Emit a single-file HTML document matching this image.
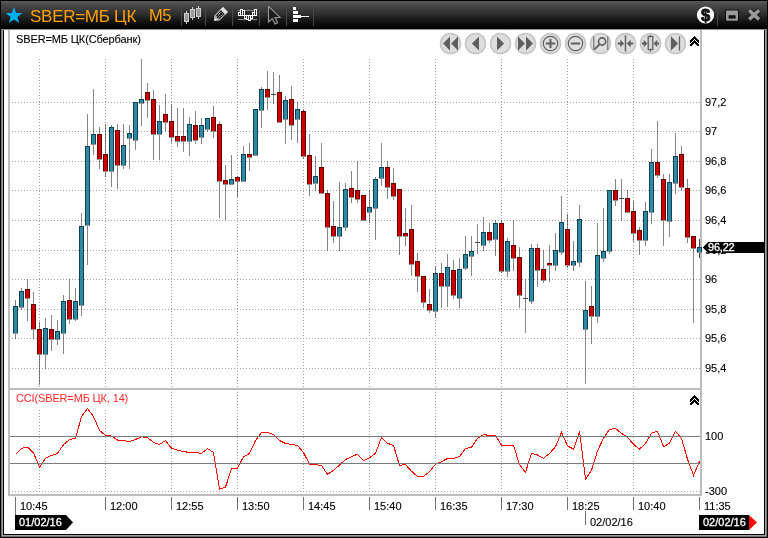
<!DOCTYPE html>
<html lang="ru"><head><meta charset="utf-8"><title>SBER=МБ ЦК M5</title>
<style>
html,body{margin:0;padding:0;background:#fff;}
body{width:768px;height:538px;overflow:hidden;position:relative;font-family:"Liberation Sans",sans-serif;}
#win{position:absolute;left:0;top:0;width:768px;height:538px;background:#fff;overflow:hidden;}
#titlebar{position:absolute;left:0;top:0;width:768px;height:29px;background:linear-gradient(#000 0,#000 1px,#585858 1px,#4c4c4c 4px,#2e2e2e 14px,#181818 20px,#0a0a0a 25px,#000 28px);}
#titlebar .ttl{position:absolute;color:#ffa000;font-size:17px;line-height:20px;white-space:pre;}
.lbl{position:absolute;font-size:11px;line-height:12px;color:#000;white-space:pre;-webkit-text-stroke:0.12px #000;}
.badge{position:absolute;font-size:11px;line-height:12px;color:#fff;white-space:pre;-webkit-text-stroke:0.3px #fff;}
svg{position:absolute;left:0;top:0;}
</style></head><body>
<div id="win">
<svg id="chart" width="768" height="538" viewBox="0 0 768 538" shape-rendering="crispEdges">
<rect x="0" y="29" width="768" height="509" fill="#fff"/>
<rect x="0" y="29" width="768" height="1" fill="#909090"/>
<rect x="0" y="29" width="1" height="509" fill="#000"/>
<rect x="1" y="29" width="1" height="509" fill="#747474"/><rect x="2" y="29" width="1" height="509" fill="#a2a2a2"/>
<rect x="3" y="30" width="1" height="505" fill="#000"/>
<rect x="767" y="29" width="1" height="509" fill="#000"/>
<rect x="765" y="29" width="1" height="509" fill="#a2a2a2"/><rect x="766" y="29" width="1" height="509" fill="#747474"/>
<rect x="764" y="30" width="1" height="505" fill="#000"/>
<rect x="3" y="534" width="762" height="1" fill="#000"/>
<rect x="2" y="535" width="764" height="1" fill="#a2a2a2"/><rect x="1" y="536" width="766" height="1" fill="#747474"/>
<rect x="0" y="537" width="768" height="1" fill="#000"/>
<line x1="9" y1="102.5" x2="700" y2="102.5" stroke="#a4a4a4" stroke-width="1" stroke-dasharray="1 2"/>
<line x1="9" y1="131.5" x2="700" y2="131.5" stroke="#a4a4a4" stroke-width="1" stroke-dasharray="1 2"/>
<line x1="9" y1="161.5" x2="700" y2="161.5" stroke="#a4a4a4" stroke-width="1" stroke-dasharray="1 2"/>
<line x1="9" y1="190.5" x2="700" y2="190.5" stroke="#a4a4a4" stroke-width="1" stroke-dasharray="1 2"/>
<line x1="9" y1="220.5" x2="700" y2="220.5" stroke="#a4a4a4" stroke-width="1" stroke-dasharray="1 2"/>
<line x1="9" y1="250.5" x2="700" y2="250.5" stroke="#a4a4a4" stroke-width="1" stroke-dasharray="1 2"/>
<line x1="9" y1="279.5" x2="700" y2="279.5" stroke="#a4a4a4" stroke-width="1" stroke-dasharray="1 2"/>
<line x1="9" y1="309.5" x2="700" y2="309.5" stroke="#a4a4a4" stroke-width="1" stroke-dasharray="1 2"/>
<line x1="9" y1="338.5" x2="700" y2="338.5" stroke="#a4a4a4" stroke-width="1" stroke-dasharray="1 2"/>
<line x1="9" y1="368.5" x2="700" y2="368.5" stroke="#a4a4a4" stroke-width="1" stroke-dasharray="1 2"/>
<line x1="39.5" y1="59" x2="39.5" y2="388" stroke="#a4a4a4" stroke-width="1" stroke-dasharray="1 2"/>
<line x1="39.5" y1="410" x2="39.5" y2="494" stroke="#a4a4a4" stroke-width="1" stroke-dasharray="1 2"/>
<line x1="105.5" y1="59" x2="105.5" y2="388" stroke="#a4a4a4" stroke-width="1" stroke-dasharray="1 2"/>
<line x1="105.5" y1="410" x2="105.5" y2="494" stroke="#a4a4a4" stroke-width="1" stroke-dasharray="1 2"/>
<line x1="171.5" y1="59" x2="171.5" y2="388" stroke="#a4a4a4" stroke-width="1" stroke-dasharray="1 2"/>
<line x1="171.5" y1="392" x2="171.5" y2="494" stroke="#a4a4a4" stroke-width="1" stroke-dasharray="1 2"/>
<line x1="237.5" y1="59" x2="237.5" y2="388" stroke="#a4a4a4" stroke-width="1" stroke-dasharray="1 2"/>
<line x1="237.5" y1="392" x2="237.5" y2="494" stroke="#a4a4a4" stroke-width="1" stroke-dasharray="1 2"/>
<line x1="303.5" y1="59" x2="303.5" y2="388" stroke="#a4a4a4" stroke-width="1" stroke-dasharray="1 2"/>
<line x1="303.5" y1="392" x2="303.5" y2="494" stroke="#a4a4a4" stroke-width="1" stroke-dasharray="1 2"/>
<line x1="369.5" y1="59" x2="369.5" y2="388" stroke="#a4a4a4" stroke-width="1" stroke-dasharray="1 2"/>
<line x1="369.5" y1="392" x2="369.5" y2="494" stroke="#a4a4a4" stroke-width="1" stroke-dasharray="1 2"/>
<line x1="435.5" y1="59" x2="435.5" y2="388" stroke="#a4a4a4" stroke-width="1" stroke-dasharray="1 2"/>
<line x1="435.5" y1="392" x2="435.5" y2="494" stroke="#a4a4a4" stroke-width="1" stroke-dasharray="1 2"/>
<line x1="501.5" y1="59" x2="501.5" y2="388" stroke="#a4a4a4" stroke-width="1" stroke-dasharray="1 2"/>
<line x1="501.5" y1="392" x2="501.5" y2="494" stroke="#a4a4a4" stroke-width="1" stroke-dasharray="1 2"/>
<line x1="567.5" y1="59" x2="567.5" y2="388" stroke="#a4a4a4" stroke-width="1" stroke-dasharray="1 2"/>
<line x1="567.5" y1="392" x2="567.5" y2="494" stroke="#a4a4a4" stroke-width="1" stroke-dasharray="1 2"/>
<line x1="633.5" y1="59" x2="633.5" y2="388" stroke="#a4a4a4" stroke-width="1" stroke-dasharray="1 2"/>
<line x1="633.5" y1="392" x2="633.5" y2="494" stroke="#a4a4a4" stroke-width="1" stroke-dasharray="1 2"/>
<line x1="9" y1="491.5" x2="700" y2="491.5" stroke="#a4a4a4" stroke-width="1" stroke-dasharray="1 2"/>
<g shape-rendering="geometricPrecision">
<rect x="15" y="300" width="1" height="39" fill="#000" fill-opacity="0.48"/>
<rect x="13" y="333" width="5" height="1" fill="#fff"/>
<rect x="13" y="333" width="5" height="1" fill="#939393"/>
<rect x="13" y="306" width="5" height="27" fill="#0f4053"/>
<rect x="14" y="307" width="3" height="26" fill="#3089a3"/>
<rect x="21" y="288" width="1" height="22" fill="#000" fill-opacity="0.48"/>
<rect x="19" y="307" width="5" height="1" fill="#fff"/>
<rect x="19" y="307" width="5" height="1" fill="#939393"/>
<rect x="19" y="291" width="5" height="16" fill="#0f4053"/>
<rect x="20" y="292" width="3" height="15" fill="#3089a3"/>
<rect x="27" y="279" width="1" height="42" fill="#000" fill-opacity="0.48"/>
<rect x="25" y="298" width="5" height="1" fill="#fff"/>
<rect x="25" y="298" width="5" height="1" fill="#939393"/>
<rect x="25" y="289" width="5" height="9" fill="#640000"/>
<rect x="26" y="290" width="3" height="8" fill="#cc0000"/>
<rect x="33" y="292" width="1" height="47" fill="#000" fill-opacity="0.48"/>
<rect x="31" y="329" width="5" height="1" fill="#fff"/>
<rect x="31" y="329" width="5" height="1" fill="#939393"/>
<rect x="31" y="304" width="5" height="25" fill="#640000"/>
<rect x="32" y="305" width="3" height="24" fill="#cc0000"/>
<rect x="39" y="322" width="1" height="63" fill="#000" fill-opacity="0.48"/>
<rect x="37" y="354" width="5" height="1" fill="#fff"/>
<rect x="37" y="354" width="5" height="1" fill="#939393"/>
<rect x="37" y="329" width="5" height="25" fill="#640000"/>
<rect x="38" y="330" width="3" height="24" fill="#cc0000"/>
<rect x="45" y="318" width="1" height="51" fill="#000" fill-opacity="0.48"/>
<rect x="43" y="354" width="5" height="1" fill="#fff"/>
<rect x="43" y="354" width="5" height="1" fill="#939393"/>
<rect x="43" y="328" width="5" height="26" fill="#0f4053"/>
<rect x="44" y="329" width="3" height="25" fill="#3089a3"/>
<rect x="51" y="315" width="1" height="36" fill="#000" fill-opacity="0.48"/>
<rect x="49" y="339" width="5" height="1" fill="#fff"/>
<rect x="49" y="339" width="5" height="1" fill="#939393"/>
<rect x="49" y="329" width="5" height="10" fill="#640000"/>
<rect x="50" y="330" width="3" height="9" fill="#cc0000"/>
<rect x="57" y="320" width="1" height="25" fill="#000" fill-opacity="0.48"/>
<rect x="55" y="339" width="5" height="1" fill="#fff"/>
<rect x="55" y="339" width="5" height="1" fill="#939393"/>
<rect x="55" y="331" width="5" height="8" fill="#0f4053"/>
<rect x="56" y="332" width="3" height="7" fill="#3089a3"/>
<rect x="63" y="295" width="1" height="59" fill="#000" fill-opacity="0.48"/>
<rect x="61" y="333" width="5" height="1" fill="#fff"/>
<rect x="61" y="333" width="5" height="1" fill="#939393"/>
<rect x="61" y="301" width="5" height="32" fill="#0f4053"/>
<rect x="62" y="302" width="3" height="31" fill="#3089a3"/>
<rect x="69" y="279" width="1" height="45" fill="#000" fill-opacity="0.48"/>
<rect x="67" y="319" width="5" height="1" fill="#fff"/>
<rect x="67" y="319" width="5" height="1" fill="#939393"/>
<rect x="67" y="300" width="5" height="19" fill="#640000"/>
<rect x="68" y="301" width="3" height="18" fill="#cc0000"/>
<rect x="75" y="288" width="1" height="33" fill="#000" fill-opacity="0.48"/>
<rect x="73" y="319" width="5" height="1" fill="#fff"/>
<rect x="73" y="319" width="5" height="1" fill="#939393"/>
<rect x="73" y="301" width="5" height="18" fill="#0f4053"/>
<rect x="74" y="302" width="3" height="17" fill="#3089a3"/>
<rect x="81" y="213" width="1" height="103" fill="#000" fill-opacity="0.48"/>
<rect x="79" y="305" width="5" height="1" fill="#fff"/>
<rect x="79" y="305" width="5" height="1" fill="#939393"/>
<rect x="79" y="226" width="5" height="79" fill="#0f4053"/>
<rect x="80" y="227" width="3" height="78" fill="#3089a3"/>
<rect x="87" y="114" width="1" height="151" fill="#000" fill-opacity="0.48"/>
<rect x="85" y="225" width="5" height="1" fill="#fff"/>
<rect x="85" y="225" width="5" height="1" fill="#939393"/>
<rect x="85" y="146" width="5" height="79" fill="#0f4053"/>
<rect x="86" y="147" width="3" height="78" fill="#3089a3"/>
<rect x="93" y="89" width="1" height="66" fill="#000" fill-opacity="0.48"/>
<rect x="91" y="144" width="5" height="1" fill="#fff"/>
<rect x="91" y="144" width="5" height="1" fill="#939393"/>
<rect x="91" y="134" width="5" height="10" fill="#0f4053"/>
<rect x="92" y="135" width="3" height="9" fill="#3089a3"/>
<rect x="99" y="127" width="1" height="42" fill="#000" fill-opacity="0.48"/>
<rect x="97" y="159" width="5" height="1" fill="#fff"/>
<rect x="97" y="159" width="5" height="1" fill="#939393"/>
<rect x="97" y="134" width="5" height="25" fill="#640000"/>
<rect x="98" y="135" width="3" height="24" fill="#cc0000"/>
<rect x="105" y="124" width="1" height="53" fill="#000" fill-opacity="0.48"/>
<rect x="103" y="171" width="5" height="1" fill="#fff"/>
<rect x="103" y="171" width="5" height="1" fill="#939393"/>
<rect x="103" y="154" width="5" height="17" fill="#640000"/>
<rect x="104" y="155" width="3" height="16" fill="#cc0000"/>
<rect x="111" y="125" width="1" height="62" fill="#000" fill-opacity="0.48"/>
<rect x="109" y="171" width="5" height="1" fill="#fff"/>
<rect x="109" y="171" width="5" height="1" fill="#939393"/>
<rect x="109" y="127" width="5" height="44" fill="#0f4053"/>
<rect x="110" y="128" width="3" height="43" fill="#3089a3"/>
<rect x="117" y="124" width="1" height="65" fill="#000" fill-opacity="0.48"/>
<rect x="115" y="165" width="5" height="1" fill="#fff"/>
<rect x="115" y="165" width="5" height="1" fill="#939393"/>
<rect x="115" y="130" width="5" height="35" fill="#640000"/>
<rect x="116" y="131" width="3" height="34" fill="#cc0000"/>
<rect x="123" y="124" width="1" height="45" fill="#000" fill-opacity="0.48"/>
<rect x="121" y="165" width="5" height="1" fill="#fff"/>
<rect x="121" y="165" width="5" height="1" fill="#939393"/>
<rect x="121" y="145" width="5" height="20" fill="#0f4053"/>
<rect x="122" y="146" width="3" height="19" fill="#3089a3"/>
<rect x="129" y="125" width="1" height="44" fill="#000" fill-opacity="0.48"/>
<rect x="127" y="138" width="5" height="1" fill="#fff"/>
<rect x="127" y="138" width="5" height="1" fill="#939393"/>
<rect x="127" y="133" width="5" height="5" fill="#0f4053"/>
<rect x="128" y="134" width="3" height="4" fill="#3089a3"/>
<rect x="135" y="102" width="1" height="48" fill="#000" fill-opacity="0.48"/>
<rect x="133" y="140" width="5" height="1" fill="#fff"/>
<rect x="133" y="140" width="5" height="1" fill="#939393"/>
<rect x="133" y="102" width="5" height="38" fill="#0f4053"/>
<rect x="134" y="103" width="3" height="37" fill="#3089a3"/>
<rect x="141" y="59" width="1" height="67" fill="#000" fill-opacity="0.48"/>
<rect x="139" y="103" width="5" height="1" fill="#fff"/>
<rect x="139" y="103" width="5" height="1" fill="#939393"/>
<rect x="139" y="99" width="5" height="4" fill="#0f4053"/>
<rect x="140" y="100" width="3" height="3" fill="#3089a3"/>
<rect x="147" y="83" width="1" height="35" fill="#000" fill-opacity="0.48"/>
<rect x="145" y="100" width="5" height="1" fill="#fff"/>
<rect x="145" y="100" width="5" height="1" fill="#939393"/>
<rect x="145" y="92" width="5" height="8" fill="#640000"/>
<rect x="146" y="93" width="3" height="7" fill="#cc0000"/>
<rect x="153" y="90" width="1" height="70" fill="#000" fill-opacity="0.48"/>
<rect x="151" y="134" width="5" height="1" fill="#fff"/>
<rect x="151" y="134" width="5" height="1" fill="#939393"/>
<rect x="151" y="99" width="5" height="35" fill="#640000"/>
<rect x="152" y="100" width="3" height="34" fill="#cc0000"/>
<rect x="159" y="105" width="1" height="55" fill="#000" fill-opacity="0.48"/>
<rect x="157" y="134" width="5" height="1" fill="#fff"/>
<rect x="157" y="134" width="5" height="1" fill="#939393"/>
<rect x="157" y="121" width="5" height="13" fill="#0f4053"/>
<rect x="158" y="122" width="3" height="12" fill="#3089a3"/>
<rect x="165" y="94" width="1" height="37" fill="#000" fill-opacity="0.48"/>
<rect x="163" y="122" width="5" height="1" fill="#fff"/>
<rect x="163" y="122" width="5" height="1" fill="#939393"/>
<rect x="163" y="114" width="5" height="8" fill="#640000"/>
<rect x="164" y="115" width="3" height="7" fill="#cc0000"/>
<rect x="171" y="104" width="1" height="39" fill="#000" fill-opacity="0.48"/>
<rect x="169" y="137" width="5" height="1" fill="#fff"/>
<rect x="169" y="137" width="5" height="1" fill="#939393"/>
<rect x="169" y="121" width="5" height="16" fill="#640000"/>
<rect x="170" y="122" width="3" height="15" fill="#cc0000"/>
<rect x="177" y="108" width="1" height="39" fill="#000" fill-opacity="0.48"/>
<rect x="175" y="141" width="5" height="1" fill="#fff"/>
<rect x="175" y="141" width="5" height="1" fill="#939393"/>
<rect x="175" y="136" width="5" height="5" fill="#640000"/>
<rect x="176" y="137" width="3" height="4" fill="#cc0000"/>
<rect x="183" y="108" width="1" height="44" fill="#000" fill-opacity="0.48"/>
<rect x="181" y="141" width="5" height="1" fill="#fff"/>
<rect x="181" y="141" width="5" height="1" fill="#939393"/>
<rect x="181" y="136" width="5" height="5" fill="#640000"/>
<rect x="182" y="137" width="3" height="4" fill="#cc0000"/>
<rect x="189" y="117" width="1" height="39" fill="#000" fill-opacity="0.48"/>
<rect x="187" y="141" width="5" height="1" fill="#fff"/>
<rect x="187" y="141" width="5" height="1" fill="#939393"/>
<rect x="187" y="124" width="5" height="17" fill="#0f4053"/>
<rect x="188" y="125" width="3" height="16" fill="#3089a3"/>
<rect x="195" y="111" width="1" height="33" fill="#000" fill-opacity="0.48"/>
<rect x="193" y="140" width="5" height="1" fill="#fff"/>
<rect x="193" y="140" width="5" height="1" fill="#939393"/>
<rect x="193" y="125" width="5" height="15" fill="#640000"/>
<rect x="194" y="126" width="3" height="14" fill="#cc0000"/>
<rect x="201" y="118" width="1" height="26" fill="#000" fill-opacity="0.48"/>
<rect x="199" y="137" width="5" height="1" fill="#fff"/>
<rect x="199" y="137" width="5" height="1" fill="#939393"/>
<rect x="199" y="125" width="5" height="12" fill="#0f4053"/>
<rect x="200" y="126" width="3" height="11" fill="#3089a3"/>
<rect x="207" y="118" width="1" height="14" fill="#000" fill-opacity="0.48"/>
<rect x="205" y="129" width="5" height="1" fill="#fff"/>
<rect x="205" y="129" width="5" height="1" fill="#939393"/>
<rect x="205" y="118" width="5" height="11" fill="#0f4053"/>
<rect x="206" y="119" width="3" height="10" fill="#3089a3"/>
<rect x="213" y="106" width="1" height="32" fill="#000" fill-opacity="0.48"/>
<rect x="211" y="131" width="5" height="1" fill="#fff"/>
<rect x="211" y="131" width="5" height="1" fill="#939393"/>
<rect x="211" y="117" width="5" height="14" fill="#640000"/>
<rect x="212" y="118" width="3" height="13" fill="#cc0000"/>
<rect x="219" y="121" width="1" height="97" fill="#000" fill-opacity="0.48"/>
<rect x="217" y="181" width="5" height="1" fill="#fff"/>
<rect x="217" y="181" width="5" height="1" fill="#939393"/>
<rect x="217" y="124" width="5" height="57" fill="#640000"/>
<rect x="218" y="125" width="3" height="56" fill="#cc0000"/>
<rect x="225" y="165" width="1" height="55" fill="#000" fill-opacity="0.48"/>
<rect x="223" y="184" width="5" height="1" fill="#fff"/>
<rect x="223" y="184" width="5" height="1" fill="#939393"/>
<rect x="223" y="180" width="5" height="4" fill="#640000"/>
<rect x="224" y="181" width="3" height="3" fill="#cc0000"/>
<rect x="231" y="155" width="1" height="29" fill="#000" fill-opacity="0.48"/>
<rect x="229" y="184" width="5" height="1" fill="#fff"/>
<rect x="229" y="184" width="5" height="1" fill="#939393"/>
<rect x="229" y="179" width="5" height="5" fill="#0f4053"/>
<rect x="230" y="180" width="3" height="4" fill="#3089a3"/>
<rect x="237" y="176" width="1" height="21" fill="#000" fill-opacity="0.48"/>
<rect x="235" y="181" width="5" height="1" fill="#fff"/>
<rect x="235" y="181" width="5" height="1" fill="#939393"/>
<rect x="235" y="177" width="5" height="4" fill="#640000"/>
<rect x="236" y="178" width="3" height="3" fill="#cc0000"/>
<rect x="243" y="146" width="1" height="35" fill="#000" fill-opacity="0.48"/>
<rect x="241" y="181" width="5" height="1" fill="#fff"/>
<rect x="241" y="181" width="5" height="1" fill="#939393"/>
<rect x="241" y="154" width="5" height="27" fill="#0f4053"/>
<rect x="242" y="155" width="3" height="26" fill="#3089a3"/>
<rect x="249" y="143" width="1" height="28" fill="#000" fill-opacity="0.48"/>
<rect x="247" y="157" width="5" height="1" fill="#fff"/>
<rect x="247" y="157" width="5" height="1" fill="#939393"/>
<rect x="247" y="154" width="5" height="3" fill="#640000"/>
<rect x="248" y="155" width="3" height="2" fill="#cc0000"/>
<rect x="255" y="109" width="1" height="46" fill="#000" fill-opacity="0.48"/>
<rect x="253" y="155" width="5" height="1" fill="#fff"/>
<rect x="253" y="155" width="5" height="1" fill="#939393"/>
<rect x="253" y="109" width="5" height="46" fill="#0f4053"/>
<rect x="254" y="110" width="3" height="45" fill="#3089a3"/>
<rect x="261" y="87" width="1" height="41" fill="#000" fill-opacity="0.48"/>
<rect x="259" y="110" width="5" height="1" fill="#fff"/>
<rect x="259" y="110" width="5" height="1" fill="#939393"/>
<rect x="259" y="89" width="5" height="21" fill="#0f4053"/>
<rect x="260" y="90" width="3" height="20" fill="#3089a3"/>
<rect x="267" y="71" width="1" height="39" fill="#000" fill-opacity="0.48"/>
<rect x="265" y="97" width="5" height="1" fill="#fff"/>
<rect x="265" y="97" width="5" height="1" fill="#939393"/>
<rect x="265" y="89" width="5" height="8" fill="#640000"/>
<rect x="266" y="90" width="3" height="7" fill="#cc0000"/>
<rect x="273" y="72" width="1" height="32" fill="#000" fill-opacity="0.48"/>
<rect x="271" y="94" width="5" height="1" fill="#444"/>
<rect x="279" y="75" width="1" height="47" fill="#000" fill-opacity="0.48"/>
<rect x="277" y="122" width="5" height="1" fill="#fff"/>
<rect x="277" y="122" width="5" height="1" fill="#939393"/>
<rect x="277" y="92" width="5" height="30" fill="#640000"/>
<rect x="278" y="93" width="3" height="29" fill="#cc0000"/>
<rect x="285" y="96" width="1" height="48" fill="#000" fill-opacity="0.48"/>
<rect x="283" y="119" width="5" height="1" fill="#fff"/>
<rect x="283" y="119" width="5" height="1" fill="#939393"/>
<rect x="283" y="100" width="5" height="19" fill="#0f4053"/>
<rect x="284" y="101" width="3" height="18" fill="#3089a3"/>
<rect x="291" y="86" width="1" height="54" fill="#000" fill-opacity="0.48"/>
<rect x="289" y="125" width="5" height="1" fill="#fff"/>
<rect x="289" y="125" width="5" height="1" fill="#939393"/>
<rect x="289" y="99" width="5" height="26" fill="#640000"/>
<rect x="290" y="100" width="3" height="25" fill="#cc0000"/>
<rect x="297" y="102" width="1" height="41" fill="#000" fill-opacity="0.48"/>
<rect x="295" y="119" width="5" height="1" fill="#fff"/>
<rect x="295" y="119" width="5" height="1" fill="#939393"/>
<rect x="295" y="109" width="5" height="10" fill="#0f4053"/>
<rect x="296" y="110" width="3" height="9" fill="#3089a3"/>
<rect x="303" y="109" width="1" height="50" fill="#000" fill-opacity="0.48"/>
<rect x="301" y="156" width="5" height="1" fill="#fff"/>
<rect x="301" y="156" width="5" height="1" fill="#939393"/>
<rect x="301" y="111" width="5" height="45" fill="#640000"/>
<rect x="302" y="112" width="3" height="44" fill="#cc0000"/>
<rect x="309" y="134" width="1" height="62" fill="#000" fill-opacity="0.48"/>
<rect x="307" y="184" width="5" height="1" fill="#fff"/>
<rect x="307" y="184" width="5" height="1" fill="#939393"/>
<rect x="307" y="155" width="5" height="29" fill="#640000"/>
<rect x="308" y="156" width="3" height="28" fill="#cc0000"/>
<rect x="315" y="156" width="1" height="35" fill="#000" fill-opacity="0.48"/>
<rect x="313" y="183" width="5" height="1" fill="#fff"/>
<rect x="313" y="183" width="5" height="1" fill="#939393"/>
<rect x="313" y="176" width="5" height="7" fill="#0f4053"/>
<rect x="314" y="177" width="3" height="6" fill="#3089a3"/>
<rect x="321" y="143" width="1" height="50" fill="#000" fill-opacity="0.48"/>
<rect x="319" y="193" width="5" height="1" fill="#fff"/>
<rect x="319" y="193" width="5" height="1" fill="#939393"/>
<rect x="319" y="167" width="5" height="26" fill="#640000"/>
<rect x="320" y="168" width="3" height="25" fill="#cc0000"/>
<rect x="327" y="190" width="1" height="61" fill="#000" fill-opacity="0.48"/>
<rect x="325" y="227" width="5" height="1" fill="#fff"/>
<rect x="325" y="227" width="5" height="1" fill="#939393"/>
<rect x="325" y="193" width="5" height="34" fill="#640000"/>
<rect x="326" y="194" width="3" height="33" fill="#cc0000"/>
<rect x="333" y="201" width="1" height="42" fill="#000" fill-opacity="0.48"/>
<rect x="331" y="236" width="5" height="1" fill="#fff"/>
<rect x="331" y="236" width="5" height="1" fill="#939393"/>
<rect x="331" y="226" width="5" height="10" fill="#640000"/>
<rect x="332" y="227" width="3" height="9" fill="#cc0000"/>
<rect x="339" y="182" width="1" height="69" fill="#000" fill-opacity="0.48"/>
<rect x="337" y="236" width="5" height="1" fill="#fff"/>
<rect x="337" y="236" width="5" height="1" fill="#939393"/>
<rect x="337" y="227" width="5" height="9" fill="#0f4053"/>
<rect x="338" y="228" width="3" height="8" fill="#3089a3"/>
<rect x="345" y="183" width="1" height="48" fill="#000" fill-opacity="0.48"/>
<rect x="343" y="227" width="5" height="1" fill="#fff"/>
<rect x="343" y="227" width="5" height="1" fill="#939393"/>
<rect x="343" y="189" width="5" height="38" fill="#0f4053"/>
<rect x="344" y="190" width="3" height="37" fill="#3089a3"/>
<rect x="351" y="171" width="1" height="32" fill="#000" fill-opacity="0.48"/>
<rect x="349" y="197" width="5" height="1" fill="#fff"/>
<rect x="349" y="197" width="5" height="1" fill="#939393"/>
<rect x="349" y="188" width="5" height="9" fill="#640000"/>
<rect x="350" y="189" width="3" height="8" fill="#cc0000"/>
<rect x="357" y="161" width="1" height="42" fill="#000" fill-opacity="0.48"/>
<rect x="355" y="199" width="5" height="1" fill="#fff"/>
<rect x="355" y="199" width="5" height="1" fill="#939393"/>
<rect x="355" y="190" width="5" height="9" fill="#640000"/>
<rect x="356" y="191" width="3" height="8" fill="#cc0000"/>
<rect x="363" y="195" width="1" height="25" fill="#000" fill-opacity="0.48"/>
<rect x="361" y="220" width="5" height="1" fill="#fff"/>
<rect x="361" y="220" width="5" height="1" fill="#939393"/>
<rect x="361" y="195" width="5" height="25" fill="#640000"/>
<rect x="362" y="196" width="3" height="24" fill="#cc0000"/>
<rect x="369" y="190" width="1" height="33" fill="#000" fill-opacity="0.48"/>
<rect x="367" y="212" width="5" height="1" fill="#fff"/>
<rect x="367" y="212" width="5" height="1" fill="#939393"/>
<rect x="367" y="207" width="5" height="5" fill="#0f4053"/>
<rect x="368" y="208" width="3" height="4" fill="#3089a3"/>
<rect x="375" y="177" width="1" height="63" fill="#000" fill-opacity="0.48"/>
<rect x="373" y="208" width="5" height="1" fill="#fff"/>
<rect x="373" y="208" width="5" height="1" fill="#939393"/>
<rect x="373" y="179" width="5" height="29" fill="#0f4053"/>
<rect x="374" y="180" width="3" height="28" fill="#3089a3"/>
<rect x="381" y="143" width="1" height="43" fill="#000" fill-opacity="0.48"/>
<rect x="379" y="178" width="5" height="1" fill="#fff"/>
<rect x="379" y="178" width="5" height="1" fill="#939393"/>
<rect x="379" y="167" width="5" height="11" fill="#0f4053"/>
<rect x="380" y="168" width="3" height="10" fill="#3089a3"/>
<rect x="387" y="161" width="1" height="38" fill="#000" fill-opacity="0.48"/>
<rect x="385" y="187" width="5" height="1" fill="#fff"/>
<rect x="385" y="187" width="5" height="1" fill="#939393"/>
<rect x="385" y="167" width="5" height="20" fill="#640000"/>
<rect x="386" y="168" width="3" height="19" fill="#cc0000"/>
<rect x="393" y="168" width="1" height="32" fill="#000" fill-opacity="0.48"/>
<rect x="391" y="196" width="5" height="1" fill="#fff"/>
<rect x="391" y="196" width="5" height="1" fill="#939393"/>
<rect x="391" y="183" width="5" height="13" fill="#640000"/>
<rect x="392" y="184" width="3" height="12" fill="#cc0000"/>
<rect x="399" y="189" width="1" height="66" fill="#000" fill-opacity="0.48"/>
<rect x="397" y="236" width="5" height="1" fill="#fff"/>
<rect x="397" y="236" width="5" height="1" fill="#939393"/>
<rect x="397" y="189" width="5" height="47" fill="#640000"/>
<rect x="398" y="190" width="3" height="46" fill="#cc0000"/>
<rect x="405" y="208" width="1" height="38" fill="#000" fill-opacity="0.48"/>
<rect x="403" y="236" width="5" height="1" fill="#fff"/>
<rect x="403" y="236" width="5" height="1" fill="#939393"/>
<rect x="403" y="233" width="5" height="3" fill="#640000"/>
<rect x="404" y="234" width="3" height="2" fill="#cc0000"/>
<rect x="411" y="205" width="1" height="71" fill="#000" fill-opacity="0.48"/>
<rect x="409" y="264" width="5" height="1" fill="#fff"/>
<rect x="409" y="264" width="5" height="1" fill="#939393"/>
<rect x="409" y="229" width="5" height="35" fill="#640000"/>
<rect x="410" y="230" width="3" height="34" fill="#cc0000"/>
<rect x="417" y="253" width="1" height="39" fill="#000" fill-opacity="0.48"/>
<rect x="415" y="276" width="5" height="1" fill="#fff"/>
<rect x="415" y="276" width="5" height="1" fill="#939393"/>
<rect x="415" y="261" width="5" height="15" fill="#640000"/>
<rect x="416" y="262" width="3" height="14" fill="#cc0000"/>
<rect x="423" y="276" width="1" height="32" fill="#000" fill-opacity="0.48"/>
<rect x="421" y="302" width="5" height="1" fill="#fff"/>
<rect x="421" y="302" width="5" height="1" fill="#939393"/>
<rect x="421" y="276" width="5" height="26" fill="#640000"/>
<rect x="422" y="277" width="3" height="25" fill="#cc0000"/>
<rect x="429" y="289" width="1" height="24" fill="#000" fill-opacity="0.48"/>
<rect x="427" y="310" width="5" height="1" fill="#fff"/>
<rect x="427" y="310" width="5" height="1" fill="#939393"/>
<rect x="427" y="304" width="5" height="6" fill="#640000"/>
<rect x="428" y="305" width="3" height="5" fill="#cc0000"/>
<rect x="435" y="266" width="1" height="52" fill="#000" fill-opacity="0.48"/>
<rect x="433" y="311" width="5" height="1" fill="#fff"/>
<rect x="433" y="311" width="5" height="1" fill="#939393"/>
<rect x="433" y="273" width="5" height="38" fill="#0f4053"/>
<rect x="434" y="274" width="3" height="37" fill="#3089a3"/>
<rect x="441" y="263" width="1" height="45" fill="#000" fill-opacity="0.48"/>
<rect x="439" y="286" width="5" height="1" fill="#fff"/>
<rect x="439" y="286" width="5" height="1" fill="#939393"/>
<rect x="439" y="273" width="5" height="13" fill="#640000"/>
<rect x="440" y="274" width="3" height="12" fill="#cc0000"/>
<rect x="447" y="254" width="1" height="53" fill="#000" fill-opacity="0.48"/>
<rect x="445" y="286" width="5" height="1" fill="#fff"/>
<rect x="445" y="286" width="5" height="1" fill="#939393"/>
<rect x="445" y="267" width="5" height="19" fill="#0f4053"/>
<rect x="446" y="268" width="3" height="18" fill="#3089a3"/>
<rect x="453" y="260" width="1" height="39" fill="#000" fill-opacity="0.48"/>
<rect x="451" y="295" width="5" height="1" fill="#fff"/>
<rect x="451" y="295" width="5" height="1" fill="#939393"/>
<rect x="451" y="270" width="5" height="25" fill="#640000"/>
<rect x="452" y="271" width="3" height="24" fill="#cc0000"/>
<rect x="459" y="258" width="1" height="50" fill="#000" fill-opacity="0.48"/>
<rect x="457" y="298" width="5" height="1" fill="#fff"/>
<rect x="457" y="298" width="5" height="1" fill="#939393"/>
<rect x="457" y="269" width="5" height="29" fill="#0f4053"/>
<rect x="458" y="270" width="3" height="28" fill="#3089a3"/>
<rect x="465" y="236" width="1" height="34" fill="#000" fill-opacity="0.48"/>
<rect x="463" y="268" width="5" height="1" fill="#fff"/>
<rect x="463" y="268" width="5" height="1" fill="#939393"/>
<rect x="463" y="254" width="5" height="14" fill="#0f4053"/>
<rect x="464" y="255" width="3" height="13" fill="#3089a3"/>
<rect x="471" y="236" width="1" height="40" fill="#000" fill-opacity="0.48"/>
<rect x="469" y="256" width="5" height="1" fill="#fff"/>
<rect x="469" y="256" width="5" height="1" fill="#939393"/>
<rect x="469" y="251" width="5" height="5" fill="#0f4053"/>
<rect x="470" y="252" width="3" height="4" fill="#3089a3"/>
<rect x="477" y="224" width="1" height="30" fill="#000" fill-opacity="0.48"/>
<rect x="475" y="242" width="5" height="1" fill="#444"/>
<rect x="483" y="217" width="1" height="34" fill="#000" fill-opacity="0.48"/>
<rect x="481" y="245" width="5" height="1" fill="#fff"/>
<rect x="481" y="245" width="5" height="1" fill="#939393"/>
<rect x="481" y="232" width="5" height="13" fill="#0f4053"/>
<rect x="482" y="233" width="3" height="12" fill="#3089a3"/>
<rect x="489" y="223" width="1" height="20" fill="#000" fill-opacity="0.48"/>
<rect x="487" y="240" width="5" height="1" fill="#fff"/>
<rect x="487" y="240" width="5" height="1" fill="#939393"/>
<rect x="487" y="232" width="5" height="8" fill="#640000"/>
<rect x="488" y="233" width="3" height="7" fill="#cc0000"/>
<rect x="495" y="220" width="1" height="36" fill="#000" fill-opacity="0.48"/>
<rect x="493" y="239" width="5" height="1" fill="#fff"/>
<rect x="493" y="239" width="5" height="1" fill="#939393"/>
<rect x="493" y="223" width="5" height="16" fill="#0f4053"/>
<rect x="494" y="224" width="3" height="15" fill="#3089a3"/>
<rect x="501" y="220" width="1" height="53" fill="#000" fill-opacity="0.48"/>
<rect x="499" y="271" width="5" height="1" fill="#fff"/>
<rect x="499" y="271" width="5" height="1" fill="#939393"/>
<rect x="499" y="223" width="5" height="48" fill="#640000"/>
<rect x="500" y="224" width="3" height="47" fill="#cc0000"/>
<rect x="507" y="238" width="1" height="39" fill="#000" fill-opacity="0.48"/>
<rect x="505" y="271" width="5" height="1" fill="#fff"/>
<rect x="505" y="271" width="5" height="1" fill="#939393"/>
<rect x="505" y="241" width="5" height="30" fill="#0f4053"/>
<rect x="506" y="242" width="3" height="29" fill="#3089a3"/>
<rect x="513" y="220" width="1" height="51" fill="#000" fill-opacity="0.48"/>
<rect x="511" y="258" width="5" height="1" fill="#fff"/>
<rect x="511" y="258" width="5" height="1" fill="#939393"/>
<rect x="511" y="245" width="5" height="13" fill="#640000"/>
<rect x="512" y="246" width="3" height="12" fill="#cc0000"/>
<rect x="519" y="247" width="1" height="61" fill="#000" fill-opacity="0.48"/>
<rect x="517" y="295" width="5" height="1" fill="#fff"/>
<rect x="517" y="295" width="5" height="1" fill="#939393"/>
<rect x="517" y="257" width="5" height="38" fill="#640000"/>
<rect x="518" y="258" width="3" height="37" fill="#cc0000"/>
<rect x="525" y="279" width="1" height="54" fill="#000" fill-opacity="0.48"/>
<rect x="523" y="298" width="5" height="1" fill="#444"/>
<rect x="531" y="244" width="1" height="60" fill="#000" fill-opacity="0.48"/>
<rect x="529" y="301" width="5" height="1" fill="#fff"/>
<rect x="529" y="301" width="5" height="1" fill="#939393"/>
<rect x="529" y="248" width="5" height="53" fill="#0f4053"/>
<rect x="530" y="249" width="3" height="52" fill="#3089a3"/>
<rect x="537" y="244" width="1" height="43" fill="#000" fill-opacity="0.48"/>
<rect x="535" y="270" width="5" height="1" fill="#fff"/>
<rect x="535" y="270" width="5" height="1" fill="#939393"/>
<rect x="535" y="248" width="5" height="22" fill="#640000"/>
<rect x="536" y="249" width="3" height="21" fill="#cc0000"/>
<rect x="543" y="250" width="1" height="33" fill="#000" fill-opacity="0.48"/>
<rect x="541" y="280" width="5" height="1" fill="#fff"/>
<rect x="541" y="280" width="5" height="1" fill="#939393"/>
<rect x="541" y="269" width="5" height="11" fill="#640000"/>
<rect x="542" y="270" width="3" height="10" fill="#cc0000"/>
<rect x="549" y="245" width="1" height="37" fill="#000" fill-opacity="0.48"/>
<rect x="547" y="265" width="5" height="1" fill="#fff"/>
<rect x="547" y="265" width="5" height="1" fill="#939393"/>
<rect x="547" y="263" width="5" height="2" fill="#640000"/>
<rect x="548" y="264" width="3" height="1" fill="#cc0000"/>
<rect x="555" y="233" width="1" height="38" fill="#000" fill-opacity="0.48"/>
<rect x="553" y="265" width="5" height="1" fill="#fff"/>
<rect x="553" y="265" width="5" height="1" fill="#939393"/>
<rect x="553" y="250" width="5" height="15" fill="#0f4053"/>
<rect x="554" y="251" width="3" height="14" fill="#3089a3"/>
<rect x="561" y="196" width="1" height="59" fill="#000" fill-opacity="0.48"/>
<rect x="559" y="252" width="5" height="1" fill="#fff"/>
<rect x="559" y="252" width="5" height="1" fill="#939393"/>
<rect x="559" y="222" width="5" height="30" fill="#0f4053"/>
<rect x="560" y="223" width="3" height="29" fill="#3089a3"/>
<rect x="567" y="214" width="1" height="54" fill="#000" fill-opacity="0.48"/>
<rect x="565" y="265" width="5" height="1" fill="#fff"/>
<rect x="565" y="265" width="5" height="1" fill="#939393"/>
<rect x="565" y="229" width="5" height="36" fill="#640000"/>
<rect x="566" y="230" width="3" height="35" fill="#cc0000"/>
<rect x="573" y="241" width="1" height="30" fill="#000" fill-opacity="0.48"/>
<rect x="571" y="265" width="5" height="1" fill="#fff"/>
<rect x="571" y="265" width="5" height="1" fill="#939393"/>
<rect x="571" y="261" width="5" height="4" fill="#0f4053"/>
<rect x="572" y="262" width="3" height="3" fill="#3089a3"/>
<rect x="579" y="205" width="1" height="62" fill="#000" fill-opacity="0.48"/>
<rect x="577" y="262" width="5" height="1" fill="#fff"/>
<rect x="577" y="262" width="5" height="1" fill="#939393"/>
<rect x="577" y="219" width="5" height="43" fill="#0f4053"/>
<rect x="578" y="220" width="3" height="42" fill="#3089a3"/>
<rect x="585" y="281" width="1" height="103" fill="#000" fill-opacity="0.48"/>
<rect x="583" y="329" width="5" height="1" fill="#fff"/>
<rect x="583" y="329" width="5" height="1" fill="#939393"/>
<rect x="583" y="310" width="5" height="19" fill="#0f4053"/>
<rect x="584" y="311" width="3" height="18" fill="#3089a3"/>
<rect x="591" y="286" width="1" height="58" fill="#000" fill-opacity="0.48"/>
<rect x="589" y="316" width="5" height="1" fill="#fff"/>
<rect x="589" y="316" width="5" height="1" fill="#939393"/>
<rect x="589" y="306" width="5" height="10" fill="#640000"/>
<rect x="590" y="307" width="3" height="9" fill="#cc0000"/>
<rect x="597" y="223" width="1" height="100" fill="#000" fill-opacity="0.48"/>
<rect x="595" y="316" width="5" height="1" fill="#fff"/>
<rect x="595" y="316" width="5" height="1" fill="#939393"/>
<rect x="595" y="255" width="5" height="61" fill="#0f4053"/>
<rect x="596" y="256" width="3" height="60" fill="#3089a3"/>
<rect x="603" y="208" width="1" height="54" fill="#000" fill-opacity="0.48"/>
<rect x="601" y="258" width="5" height="1" fill="#fff"/>
<rect x="601" y="258" width="5" height="1" fill="#939393"/>
<rect x="601" y="251" width="5" height="7" fill="#0f4053"/>
<rect x="602" y="252" width="3" height="6" fill="#3089a3"/>
<rect x="609" y="190" width="1" height="64" fill="#000" fill-opacity="0.48"/>
<rect x="607" y="251" width="5" height="1" fill="#fff"/>
<rect x="607" y="251" width="5" height="1" fill="#939393"/>
<rect x="607" y="190" width="5" height="61" fill="#0f4053"/>
<rect x="608" y="191" width="3" height="60" fill="#3089a3"/>
<rect x="615" y="179" width="1" height="27" fill="#000" fill-opacity="0.48"/>
<rect x="613" y="200" width="5" height="1" fill="#fff"/>
<rect x="613" y="200" width="5" height="1" fill="#939393"/>
<rect x="613" y="190" width="5" height="10" fill="#640000"/>
<rect x="614" y="191" width="3" height="9" fill="#cc0000"/>
<rect x="621" y="179" width="1" height="42" fill="#000" fill-opacity="0.48"/>
<rect x="619" y="198" width="5" height="1" fill="#444"/>
<rect x="627" y="190" width="1" height="22" fill="#000" fill-opacity="0.48"/>
<rect x="625" y="212" width="5" height="1" fill="#fff"/>
<rect x="625" y="212" width="5" height="1" fill="#939393"/>
<rect x="625" y="198" width="5" height="14" fill="#640000"/>
<rect x="626" y="199" width="3" height="13" fill="#cc0000"/>
<rect x="633" y="201" width="1" height="41" fill="#000" fill-opacity="0.48"/>
<rect x="631" y="233" width="5" height="1" fill="#fff"/>
<rect x="631" y="233" width="5" height="1" fill="#939393"/>
<rect x="631" y="211" width="5" height="22" fill="#640000"/>
<rect x="632" y="212" width="3" height="21" fill="#cc0000"/>
<rect x="639" y="227" width="1" height="28" fill="#000" fill-opacity="0.48"/>
<rect x="637" y="240" width="5" height="1" fill="#fff"/>
<rect x="637" y="240" width="5" height="1" fill="#939393"/>
<rect x="637" y="230" width="5" height="10" fill="#640000"/>
<rect x="638" y="231" width="3" height="9" fill="#cc0000"/>
<rect x="645" y="202" width="1" height="44" fill="#000" fill-opacity="0.48"/>
<rect x="643" y="240" width="5" height="1" fill="#fff"/>
<rect x="643" y="240" width="5" height="1" fill="#939393"/>
<rect x="643" y="211" width="5" height="29" fill="#0f4053"/>
<rect x="644" y="212" width="3" height="28" fill="#3089a3"/>
<rect x="651" y="149" width="1" height="75" fill="#000" fill-opacity="0.48"/>
<rect x="649" y="212" width="5" height="1" fill="#fff"/>
<rect x="649" y="212" width="5" height="1" fill="#939393"/>
<rect x="649" y="162" width="5" height="50" fill="#0f4053"/>
<rect x="650" y="163" width="3" height="49" fill="#3089a3"/>
<rect x="657" y="121" width="1" height="57" fill="#000" fill-opacity="0.48"/>
<rect x="655" y="175" width="5" height="1" fill="#fff"/>
<rect x="655" y="175" width="5" height="1" fill="#939393"/>
<rect x="655" y="162" width="5" height="13" fill="#640000"/>
<rect x="656" y="163" width="3" height="12" fill="#cc0000"/>
<rect x="663" y="174" width="1" height="72" fill="#000" fill-opacity="0.48"/>
<rect x="661" y="220" width="5" height="1" fill="#fff"/>
<rect x="661" y="220" width="5" height="1" fill="#939393"/>
<rect x="661" y="179" width="5" height="41" fill="#640000"/>
<rect x="662" y="180" width="3" height="40" fill="#cc0000"/>
<rect x="669" y="174" width="1" height="63" fill="#000" fill-opacity="0.48"/>
<rect x="667" y="221" width="5" height="1" fill="#fff"/>
<rect x="667" y="221" width="5" height="1" fill="#939393"/>
<rect x="667" y="182" width="5" height="39" fill="#0f4053"/>
<rect x="668" y="183" width="3" height="38" fill="#3089a3"/>
<rect x="675" y="133" width="1" height="61" fill="#000" fill-opacity="0.48"/>
<rect x="673" y="183" width="5" height="1" fill="#fff"/>
<rect x="673" y="183" width="5" height="1" fill="#939393"/>
<rect x="673" y="156" width="5" height="27" fill="#0f4053"/>
<rect x="674" y="157" width="3" height="26" fill="#3089a3"/>
<rect x="681" y="146" width="1" height="45" fill="#000" fill-opacity="0.48"/>
<rect x="679" y="187" width="5" height="1" fill="#fff"/>
<rect x="679" y="187" width="5" height="1" fill="#939393"/>
<rect x="679" y="154" width="5" height="33" fill="#640000"/>
<rect x="680" y="155" width="3" height="32" fill="#cc0000"/>
<rect x="687" y="179" width="1" height="64" fill="#000" fill-opacity="0.48"/>
<rect x="685" y="237" width="5" height="1" fill="#fff"/>
<rect x="685" y="237" width="5" height="1" fill="#939393"/>
<rect x="685" y="188" width="5" height="49" fill="#640000"/>
<rect x="686" y="189" width="3" height="48" fill="#cc0000"/>
<rect x="693" y="236" width="1" height="87" fill="#000" fill-opacity="0.48"/>
<rect x="691" y="248" width="5" height="1" fill="#fff"/>
<rect x="691" y="248" width="5" height="1" fill="#939393"/>
<rect x="691" y="236" width="5" height="12" fill="#640000"/>
<rect x="692" y="237" width="3" height="11" fill="#cc0000"/>
<rect x="699" y="239" width="1" height="19" fill="#000" fill-opacity="0.48"/>
<rect x="697" y="252" width="5" height="1" fill="#fff"/>
<rect x="697" y="252" width="5" height="1" fill="#939393"/>
<rect x="697" y="247" width="5" height="5" fill="#0f4053"/>
<rect x="698" y="248" width="3" height="4" fill="#3089a3"/>
</g>
<rect x="8" y="30" width="2" height="466" fill="#bdbdbd"/>
<rect x="700" y="30" width="2" height="466" fill="#bdbdbd"/>
<rect x="8" y="388" width="694" height="2" fill="#bdbdbd"/>
<rect x="8" y="494" width="694" height="2" fill="#bdbdbd"/>
<g shape-rendering="geometricPrecision">
<rect x="699" y="239" width="1" height="19" fill="#000" fill-opacity="0.48"/>
<rect x="697" y="252" width="5" height="1" fill="#fff"/>
<rect x="697" y="252" width="5" height="1" fill="#939393"/>
<rect x="697" y="247" width="5" height="5" fill="#0f4053"/>
<rect x="698" y="248" width="3" height="4" fill="#3089a3"/>
</g>
<rect x="15" y="497" width="1" height="18" fill="#707070"/>
<rect x="105" y="497" width="1" height="13" fill="#707070"/>
<rect x="171" y="497" width="1" height="13" fill="#707070"/>
<rect x="237" y="497" width="1" height="13" fill="#707070"/>
<rect x="303" y="497" width="1" height="13" fill="#707070"/>
<rect x="369" y="497" width="1" height="13" fill="#707070"/>
<rect x="435" y="497" width="1" height="13" fill="#707070"/>
<rect x="501" y="497" width="1" height="13" fill="#707070"/>
<rect x="567" y="497" width="1" height="13" fill="#707070"/>
<rect x="633" y="497" width="1" height="13" fill="#707070"/>
<rect x="699" y="497" width="1" height="13" fill="#707070"/>
<rect x="585" y="511" width="1" height="14" fill="#707070"/>
</svg>
<svg id="cci" width="768" height="538" viewBox="0 0 768 538">
<polyline points="15.5,454.5 21.5,448.3 27.5,447.2 33.5,453.0 39.5,467.2 45.5,458.4 51.5,455.4 57.5,453.4 63.5,444.7 69.5,439.5 75.5,438.3 81.5,416.5 87.5,408.5 93.5,416.5 99.5,430.4 105.5,435.3 111.5,436.1 117.5,440.1 123.5,440.5 129.5,441.6 135.5,439.5 141.5,436.8 147.5,437.5 153.5,442.5 159.5,444.5 165.5,440.5 171.5,448.3 177.5,450.3 183.5,451.5 189.5,452.5 195.5,452.5 201.5,453.5 207.5,448.5 213.5,452.5 219.5,489.3 225.5,487.2 231.5,468.6 237.5,468.2 243.5,456.7 249.5,453.5 255.5,440.5 261.5,432.4 267.5,432.4 273.5,434.5 279.5,440.5 285.5,443.5 291.5,444.3 297.5,445.5 303.5,452.5 309.5,464.2 315.5,464.6 321.5,465.6 327.5,474.3 333.5,470.4 339.5,465.0 345.5,459.5 351.5,456.7 357.5,454.2 363.5,460.5 369.5,457.9 375.5,453.2 381.5,437.5 387.5,443.3 393.5,445.5 399.5,465.4 405.5,464.6 411.5,471.3 417.5,476.4 423.5,476.4 429.5,471.6 435.5,464.2 441.5,461.7 447.5,458.4 453.5,458.4 459.5,456.5 465.5,448.5 471.5,447.2 477.5,438.3 483.5,434.5 489.5,435.5 495.5,435.5 501.5,445.3 507.5,445.3 513.5,445.3 519.5,464.6 525.5,472.3 531.5,453.4 537.5,455.0 543.5,458.2 549.5,453.4 555.5,446.7 561.5,432.4 567.5,445.8 573.5,449.2 579.5,431.3 585.5,479.3 591.5,470.1 597.5,450.8 603.5,438.3 609.5,429.4 615.5,428.4 621.5,433.3 627.5,437.5 633.5,444.2 639.5,449.2 645.5,443.3 651.5,433.3 657.5,431.3 663.5,446.7 669.5,443.3 675.5,431.3 681.5,438.3 687.5,459.2 693.5,475.4 699.5,461.4" fill="none" stroke="#ff0000" stroke-width="1" shape-rendering="crispEdges"/>
<rect x="10" y="436" width="690" height="1" fill="#7a7a7a" shape-rendering="crispEdges"/>
<rect x="10" y="463" width="690" height="1" fill="#7a7a7a" shape-rendering="crispEdges"/>
<g fill="#000" shape-rendering="crispEdges"><rect x="694" y="36" width="1" height="3"/><rect x="694" y="40" width="1" height="3"/><rect x="693" y="37" width="1" height="3"/><rect x="693" y="41" width="1" height="3"/><rect x="695" y="37" width="1" height="3"/><rect x="695" y="41" width="1" height="3"/><rect x="692" y="38" width="1" height="3"/><rect x="692" y="42" width="1" height="3"/><rect x="696" y="38" width="1" height="3"/><rect x="696" y="42" width="1" height="3"/><rect x="691" y="39" width="1" height="3"/><rect x="691" y="43" width="1" height="3"/><rect x="697" y="39" width="1" height="3"/><rect x="697" y="43" width="1" height="3"/><rect x="690" y="40" width="1" height="3"/><rect x="690" y="44" width="1" height="2"/><rect x="698" y="40" width="1" height="3"/><rect x="698" y="44" width="1" height="2"/></g>
<g fill="#000" shape-rendering="crispEdges"><rect x="694" y="395" width="1" height="3"/><rect x="694" y="399" width="1" height="3"/><rect x="693" y="396" width="1" height="3"/><rect x="693" y="400" width="1" height="3"/><rect x="695" y="396" width="1" height="3"/><rect x="695" y="400" width="1" height="3"/><rect x="692" y="397" width="1" height="3"/><rect x="692" y="401" width="1" height="3"/><rect x="696" y="397" width="1" height="3"/><rect x="696" y="401" width="1" height="3"/><rect x="691" y="398" width="1" height="3"/><rect x="691" y="402" width="1" height="3"/><rect x="697" y="398" width="1" height="3"/><rect x="697" y="402" width="1" height="3"/><rect x="690" y="399" width="1" height="3"/><rect x="690" y="403" width="1" height="2"/><rect x="698" y="399" width="1" height="3"/><rect x="698" y="403" width="1" height="2"/></g>
<path d="M703 247.5 L708.3 242 L764 242 L764 253 L708.3 253 Z" fill="#000"/>
<path d="M15 515 L66 515 L73 522.5 L66 530 L15 530 Z" fill="#000"/>
<rect x="699" y="515" width="50" height="15" fill="#000"/>
<path d="M749 515 L757 522.5 L749 530 Z" fill="#ff0000"/>
<g transform="translate(450.5,43.5)"><circle r="10" fill="#dedede" stroke="#c6c6c6" stroke-width="1.6"/><path d="M-0.5 -6.9 L-0.5 6.9 L-7.5 0 Z M7.5 -6.9 L7.5 6.9 L0.7 0 Z" fill="#5f5f5f"/></g>
<g transform="translate(475.5,43.5)"><circle r="10" fill="#dedede" stroke="#c6c6c6" stroke-width="1.6"/><path d="M3.5 -6.9 L3.5 6.9 L-3.6 0 Z" fill="#5f5f5f"/></g>
<g transform="translate(500.5,43.5)"><circle r="10" fill="#dedede" stroke="#c6c6c6" stroke-width="1.6"/><path d="M-3.5 -6.9 L-3.5 6.9 L3.6 0 Z" fill="#5f5f5f"/></g>
<g transform="translate(525.5,43.5)"><circle r="10" fill="#dedede" stroke="#c6c6c6" stroke-width="1.6"/><path d="M0.5 -6.9 L0.5 6.9 L7.5 0 Z M-7.5 -6.9 L-7.5 6.9 L-0.7 0 Z" fill="#5f5f5f"/></g>
<g transform="translate(550.5,43.5)"><circle r="10" fill="#dedede" stroke="#c6c6c6" stroke-width="1.6"/><circle r="7.2" fill="none" stroke="#5f5f5f" stroke-width="1.2"/><path d="M-4.6 0 H4.6 M0 -4.6 V4.6" stroke="#5f5f5f" stroke-width="2" fill="none"/></g>
<g transform="translate(575.5,43.5)"><circle r="10" fill="#dedede" stroke="#c6c6c6" stroke-width="1.6"/><circle r="7.2" fill="none" stroke="#5f5f5f" stroke-width="1.2"/><path d="M-4.6 0 H4.6" stroke="#5f5f5f" stroke-width="2" fill="none"/></g>
<g transform="translate(600.5,43.5)"><circle r="10" fill="#dedede" stroke="#c6c6c6" stroke-width="1.6"/><path d="M-6.7 -7 V6.5 M7.3 -7 V6.5" stroke="#5f5f5f" stroke-width="1" fill="none"/><circle cx="1.6" cy="-2" r="3.6" fill="none" stroke="#5f5f5f" stroke-width="1.6"/><path d="M-1 0.8 L-6 5.8" stroke="#5f5f5f" stroke-width="1.9" fill="none"/></g>
<g transform="translate(625.5,43.5)"><circle r="10" fill="#dedede" stroke="#c6c6c6" stroke-width="1.6"/><path d="M0 -8.2 V8" stroke="#5f5f5f" stroke-width="1.5" fill="none"/><path d="M-7.8 0 H-4 M7.8 0 H4" stroke="#5f5f5f" stroke-width="1.8" fill="none"/><path d="M-5.2 -3.8 L-1.4 0 L-5.2 3.8 Z M5.2 -3.8 L1.4 0 L5.2 3.8 Z" fill="#5f5f5f"/></g>
<g transform="translate(650.5,43.5)"><circle r="10" fill="#dedede" stroke="#c6c6c6" stroke-width="1.6"/><path d="M0 -8.6 V-7 M0 6 V8.2" stroke="#5f5f5f" stroke-width="1.3" fill="none"/><rect x="-2.3" y="-7" width="4.6" height="13" fill="#d6d6d6" stroke="#5f5f5f" stroke-width="1.3"/><path d="M-8.6 0 H-5.5 M8.6 0 H5.5" stroke="#5f5f5f" stroke-width="1.8" fill="none"/><path d="M-6.8 -3.8 L-3 0 L-6.8 3.8 Z M6.8 -3.8 L3 0 L6.8 3.8 Z" fill="#5f5f5f"/></g>
<g transform="translate(675.5,43.5)"><circle r="10" fill="#dedede" stroke="#c6c6c6" stroke-width="1.6"/><path d="M-4.6 -7.2 L-4.6 7.2 L2.6 0 Z" fill="#5f5f5f"/><path d="M4 -7.2 V7.2" stroke="#5f5f5f" stroke-width="1.3" fill="none"/></g>
</svg>
<div class="lbl" style="left:16px;top:33px;letter-spacing:-0.12px;" id="t1">SBER=МБ ЦК(Сбербанк)</div>
<div class="lbl" style="left:16px;top:392px;color:#ff2828;-webkit-text-stroke:0;letter-spacing:-0.15px;" id="t2">CCI(SBER=МБ ЦК, 14)</div>
<div class="lbl yl" style="left:705px;top:96px;">97,2</div>
<div class="lbl yl" style="left:705px;top:125px;">97</div>
<div class="lbl yl" style="left:705px;top:155px;">96,8</div>
<div class="lbl yl" style="left:705px;top:184px;">96,6</div>
<div class="lbl yl" style="left:705px;top:214px;">96,4</div>
<div class="lbl yl" style="left:705px;top:244px;">96,2</div>
<div class="lbl yl" style="left:705px;top:273px;">96</div>
<div class="lbl yl" style="left:705px;top:303px;">95,8</div>
<div class="lbl yl" style="left:705px;top:332px;">95,6</div>
<div class="lbl yl" style="left:705px;top:362px;">95,4</div>
<div class="lbl yl" style="left:705px;top:430px;">100</div>
<div class="lbl yl" style="left:705px;top:485px;">-300</div>
<svg width="768" height="538" viewBox="0 0 768 538" style="pointer-events:none"><path d="M703 247.5 L708.3 242 L764 242 L764 253 L708.3 253 Z" fill="#000"/></svg>
<div class="badge" style="left:708px;top:241px;letter-spacing:-0.2px;" id="ptag">96,22</div>
<div class="lbl xl" style="left:20px;top:500px;">10:45</div>
<div class="lbl xl" style="left:110px;top:500px;">12:00</div>
<div class="lbl xl" style="left:176px;top:500px;">12:55</div>
<div class="lbl xl" style="left:242px;top:500px;">13:50</div>
<div class="lbl xl" style="left:308px;top:500px;">14:45</div>
<div class="lbl xl" style="left:374px;top:500px;">15:40</div>
<div class="lbl xl" style="left:440px;top:500px;">16:35</div>
<div class="lbl xl" style="left:506px;top:500px;">17:30</div>
<div class="lbl xl" style="left:572px;top:500px;">18:25</div>
<div class="lbl xl" style="left:638px;top:500px;">10:40</div>
<div class="lbl xl" style="left:704px;top:500px;">11:35</div>
<div class="lbl" style="left:590px;top:516px;">02/02/16</div>
<div class="badge" style="left:19px;top:516px;">01/02/16</div>
<div class="badge" style="left:703px;top:516px;">02/02/16</div>
<div id="titlebar">
<div class="ttl" style="left:30px;top:7px;letter-spacing:-0.27px;" id="tt">SBER=МБ ЦК</div>
<div class="ttl" style="left:149px;top:5px;font-size:16.5px;letter-spacing:-0.5px;" id="tm">M5</div>
<svg width="768" height="29" viewBox="0 0 768 29">
<polygon points="14.00,7.00 16.12,12.89 22.37,13.08 17.42,16.91 19.17,22.92 14.00,19.40 8.83,22.92 10.58,16.91 5.63,13.08 11.88,12.89" fill="#00aeef"/>
<rect x="181" y="5" width="1" height="21" fill="#484848"/>
<rect x="205" y="5" width="1" height="21" fill="#484848"/>
<rect x="232" y="5" width="1" height="21" fill="#484848"/>
<rect x="259" y="5" width="1" height="21" fill="#484848"/>
<rect x="286" y="5" width="1" height="21" fill="#484848"/>
<rect x="313" y="5" width="1" height="21" fill="#484848"/>
<rect x="717" y="5" width="1" height="21" fill="#484848"/>
<rect x="186" y="11" width="1" height="13" fill="#cfcfcf" shape-rendering="crispEdges"/>
<rect x="184" y="13" width="5" height="9" fill="#cfcfcf" shape-rendering="crispEdges"/>
<rect x="185" y="14" width="3" height="7" fill="#999" shape-rendering="crispEdges"/>
<rect x="192" y="7" width="1" height="13" fill="#cfcfcf" shape-rendering="crispEdges"/>
<rect x="190" y="9" width="5" height="9" fill="#cfcfcf" shape-rendering="crispEdges"/>
<rect x="191" y="10" width="3" height="7" fill="#999" shape-rendering="crispEdges"/>
<rect x="198" y="6" width="1" height="13" fill="#cfcfcf" shape-rendering="crispEdges"/>
<rect x="196" y="8" width="5" height="9" fill="#cfcfcf" shape-rendering="crispEdges"/>
<rect x="197" y="9" width="3" height="7" fill="#999" shape-rendering="crispEdges"/>
<g transform="translate(214.4,20.6) rotate(-45)"><path d="M0 0 L3.6 -3.5 L15.6 -3.5 L15.6 3.5 L3.6 3.5 Z" fill="#c2c2c2"/><rect x="12" y="-3.5" width="3.6" height="7" fill="#e4e4e4"/><path d="M0 0 L3.6 -3.5 L3.6 3.5 Z" fill="#b4b4b4"/><circle cx="1.3" cy="0" r="1.1" fill="#fff"/><rect x="4" y="-2.5" width="8" height="5" fill="#161616"/><path d="M4.3 -1.2 H12 M4.3 1.2 H12" stroke="#f4f4f4" stroke-width="1" stroke-dasharray="0.9 1" fill="none"/></g>
<g shape-rendering="crispEdges"><rect x="238" y="10" width="19" height="1" fill="#8a8a8a"/><rect x="238" y="19" width="19" height="1" fill="#8a8a8a"/><rect x="244" y="11" width="8" height="4" fill="#2a2a2a"/><g fill="#2a2a2a" stroke="#fff" stroke-width="1"><rect x="238.5" y="12.5" width="2" height="3"/><rect x="240.5" y="9.5" width="2" height="6"/><rect x="242.5" y="10.5" width="2" height="5"/><rect x="252.5" y="12.5" width="2" height="3"/><rect x="254.5" y="9.5" width="2" height="6"/><rect x="244.5" y="15.5" width="2" height="3"/><rect x="246.5" y="15.5" width="2" height="4"/><rect x="248.5" y="15.5" width="2" height="5"/><rect x="250.5" y="15.5" width="2" height="3"/></g><rect x="238" y="15" width="19" height="1" fill="#fff"/></g>
<path d="M268.5 6.5 L268.5 22 L272.3 18.6 L275 24 L277.6 22.8 L275 17.6 L280 17.2 Z" fill="#1c1c1c" stroke="#9c9c9c" stroke-width="1.1"/>
<g shape-rendering="crispEdges" fill="#fff"><rect x="293" y="7" width="3" height="3"/><rect x="293" y="11" width="5" height="3"/><rect x="293" y="15" width="8" height="3"/><rect x="301" y="16" width="8" height="1"/><rect x="293" y="19" width="5" height="3"/></g>
<circle cx="705.5" cy="15" r="8.6" fill="#fff"/>
<text x="705.5" y="20.6" text-anchor="middle" style="font-family:'Liberation Sans',sans-serif;font-weight:bold;font-size:16.5px" fill="#111" stroke="#111" stroke-width="0.9">$</text>
<g><rect x="725" y="9.6" width="14" height="12" fill="#0a0a0a"/><rect x="726" y="10.5" width="12" height="10.2" fill="#9a9a9a"/><rect x="728.6" y="15.2" width="7" height="3.4" fill="#111"/></g>
<path d="M749.2 10.4 L759 19.4 M759 10.4 L749.2 19.4" stroke="#0a0a0a" stroke-width="5.2" fill="none"/>
<path d="M749.2 10.4 L759 19.4 M759 10.4 L749.2 19.4" stroke="#9a9a9a" stroke-width="3.5" fill="none"/>
<rect x="0" y="0" width="1" height="29" fill="#000"/><rect x="767" y="0" width="1" height="29" fill="#000"/>
</svg>
</div>
</div>
</body></html>
